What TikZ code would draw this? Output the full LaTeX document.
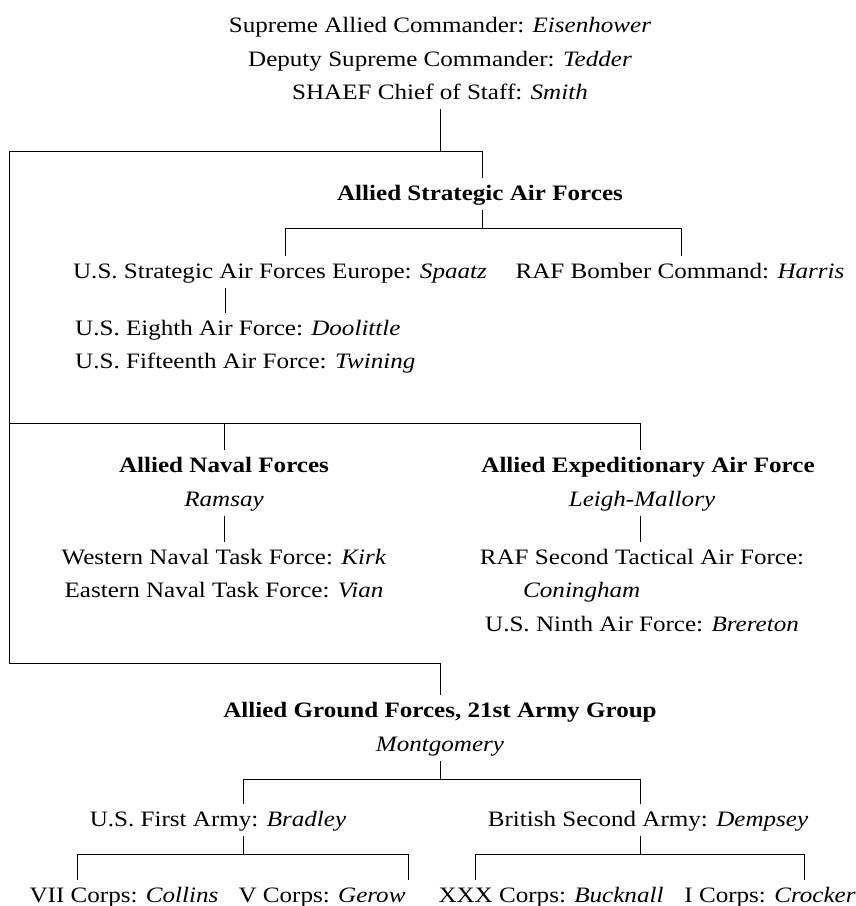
\documentclass[tikz,border=0pt]{standalone}
\usepackage{fontspec}
\setmainfont{Liberation Serif}[FakeStretch=1.14]
\begin{document}
\begin{tikzpicture}[x=1pt,y=-1pt,
  lbl/.style={anchor=base,inner xsep=0pt,inner ysep=5pt,text height=17pt,text depth=5pt,
    font=\fontsize{22}{26}\selectfont},
  lblw/.style={lbl,anchor=base west},
  hd/.style={lbl,font=\fontsize{22}{26}\selectfont\bfseries},
  conn/.style={draw,line width=1pt}]
\useasboundingbox (0,0) rectangle (856,906);
% top
\node[lbl] (t1) at (440,32) {Supreme Allied Commander: \textit{Eisenhower}};
\node[lbl] (t2) at (440,66) {Deputy Supreme Commander: \textit{Tedder}};
\node[lbl] (t3) at (440,99) {SHAEF Chief of Staff: \textit{Smith}};
\coordinate (jTop) at (440,151);
\coordinate (jL1) at (9,151);
\coordinate (jR1) at (482,151);
% strategic air
\node[hd] (asaf) at (480,200) {Allied Strategic Air Forces};
\coordinate (jA) at (482,228);
\coordinate (jAL) at (285,228);
\coordinate (jAR) at (681,228);
\node[lbl] (spaatz) at (280,278) {U.S. Strategic Air Forces Europe: \textit{Spaatz}};
\node[lbl] (harris) at (680,278) {RAF Bomber Command: \textit{Harris}};
\node[lblw] (doolittle) at (75,335) {U.S. Eighth Air Force: \textit{Doolittle}};
\node[lblw] (twining) at (75,368) {U.S. Fifteenth Air Force: \textit{Twining}};
% naval / expeditionary
\coordinate (jL2) at (9,423);
\coordinate (jN) at (224,423);
\coordinate (jE) at (640,423);
\node[hd] (anf) at (224,472) {Allied Naval Forces};
\node[lbl] (ramsay) at (224,506) {\textit{Ramsay}};
\node[lbl] (kirk) at (224,564) {Western Naval Task Force: \textit{Kirk}};
\node[lbl] (vian) at (224,597) {Eastern Naval Task Force: \textit{Vian}};
\node[hd] (aeaf) at (648,472) {Allied Expeditionary Air Force};
\node[lbl] (leigh) at (642,506) {\textit{Leigh-Mallory}};
\node[lbl] (rafsec) at (642,564) {RAF Second Tactical Air Force:};
\node[lblw] (coning) at (523,597) {\textit{Coningham}};
\node[lbl] (brereton) at (642,631) {U.S. Ninth Air Force: \textit{Brereton}};
% ground
\coordinate (jL3) at (9,663);
\coordinate (jG) at (440,663);
\node[hd] (agf) at (440,717) {Allied Ground Forces, 21st Army Group};
\node[lbl] (monty) at (440,751) {\textit{Montgomery}};
\coordinate (jM) at (440,779);
\coordinate (jML) at (243,779);
\coordinate (jMR) at (640,779);
\node[lbl] (bradley) at (218,826) {U.S. First Army: \textit{Bradley}};
\node[lbl] (dempsey) at (648,826) {British Second Army: \textit{Dempsey}};
\coordinate (jB) at (243,854);
\coordinate (jBL) at (77,854);
\coordinate (jBR) at (408,854);
\coordinate (jD) at (640,854);
\coordinate (jDL) at (475,854);
\coordinate (jDR) at (804,854);
\node[lbl] (collins) at (124,902) {VII Corps: \textit{Collins}};
\node[lbl] (gerow) at (322,902) {V Corps: \textit{Gerow}};
\node[lbl] (bucknall) at (551,902) {XXX Corps: \textit{Bucknall}};
\node[lbl] (crocker) at (770,902) {I Corps: \textit{Crocker}};
% connectors
\path[conn] (t3.south) -- (jTop);
\path[conn] (jL1) -- (jR1) -- (jR1 |- asaf.north);
\path[conn] (jL1) -- (jL3);
\path[conn] (asaf.south -| jA) -- (jA);
\path[conn] (jAL) -- (jAR);
\path[conn] (jAL) -- (jAL |- spaatz.north);
\path[conn] (jAR) -- (jAR |- harris.north);
\path[conn] (225,0 |- spaatz.south) -- (225,0 |- doolittle.north);
\path[conn] (jL2) -- (jE) -- (jE |- aeaf.north);
\path[conn] (jN) -- (anf.north);
\path[conn] (ramsay.south) -- (kirk.north);
\path[conn] (jE |- leigh.south) -- (jE |- rafsec.north);
\path[conn] (jL3) -- (jG) -- (agf.north);
\path[conn] (monty.south) -- (jM);
\path[conn] (jML) -- (jMR);
\path[conn] (jML) -- (jML |- bradley.north);
\path[conn] (jMR) -- (jMR |- dempsey.north);
\path[conn] (jB |- bradley.south) -- (jB);
\path[conn] (jD |- dempsey.south) -- (jD);
\path[conn] (jBL) -- (jBR);
\path[conn] (jDL) -- (jDR);
\path[conn] (jBL) -- (jBL |- collins.north);
\path[conn] (jBR) -- (jBR |- gerow.north);
\path[conn] (jDL) -- (jDL |- bucknall.north);
\path[conn] (jDR) -- (jDR |- crocker.north);
\end{tikzpicture}
\end{document}
